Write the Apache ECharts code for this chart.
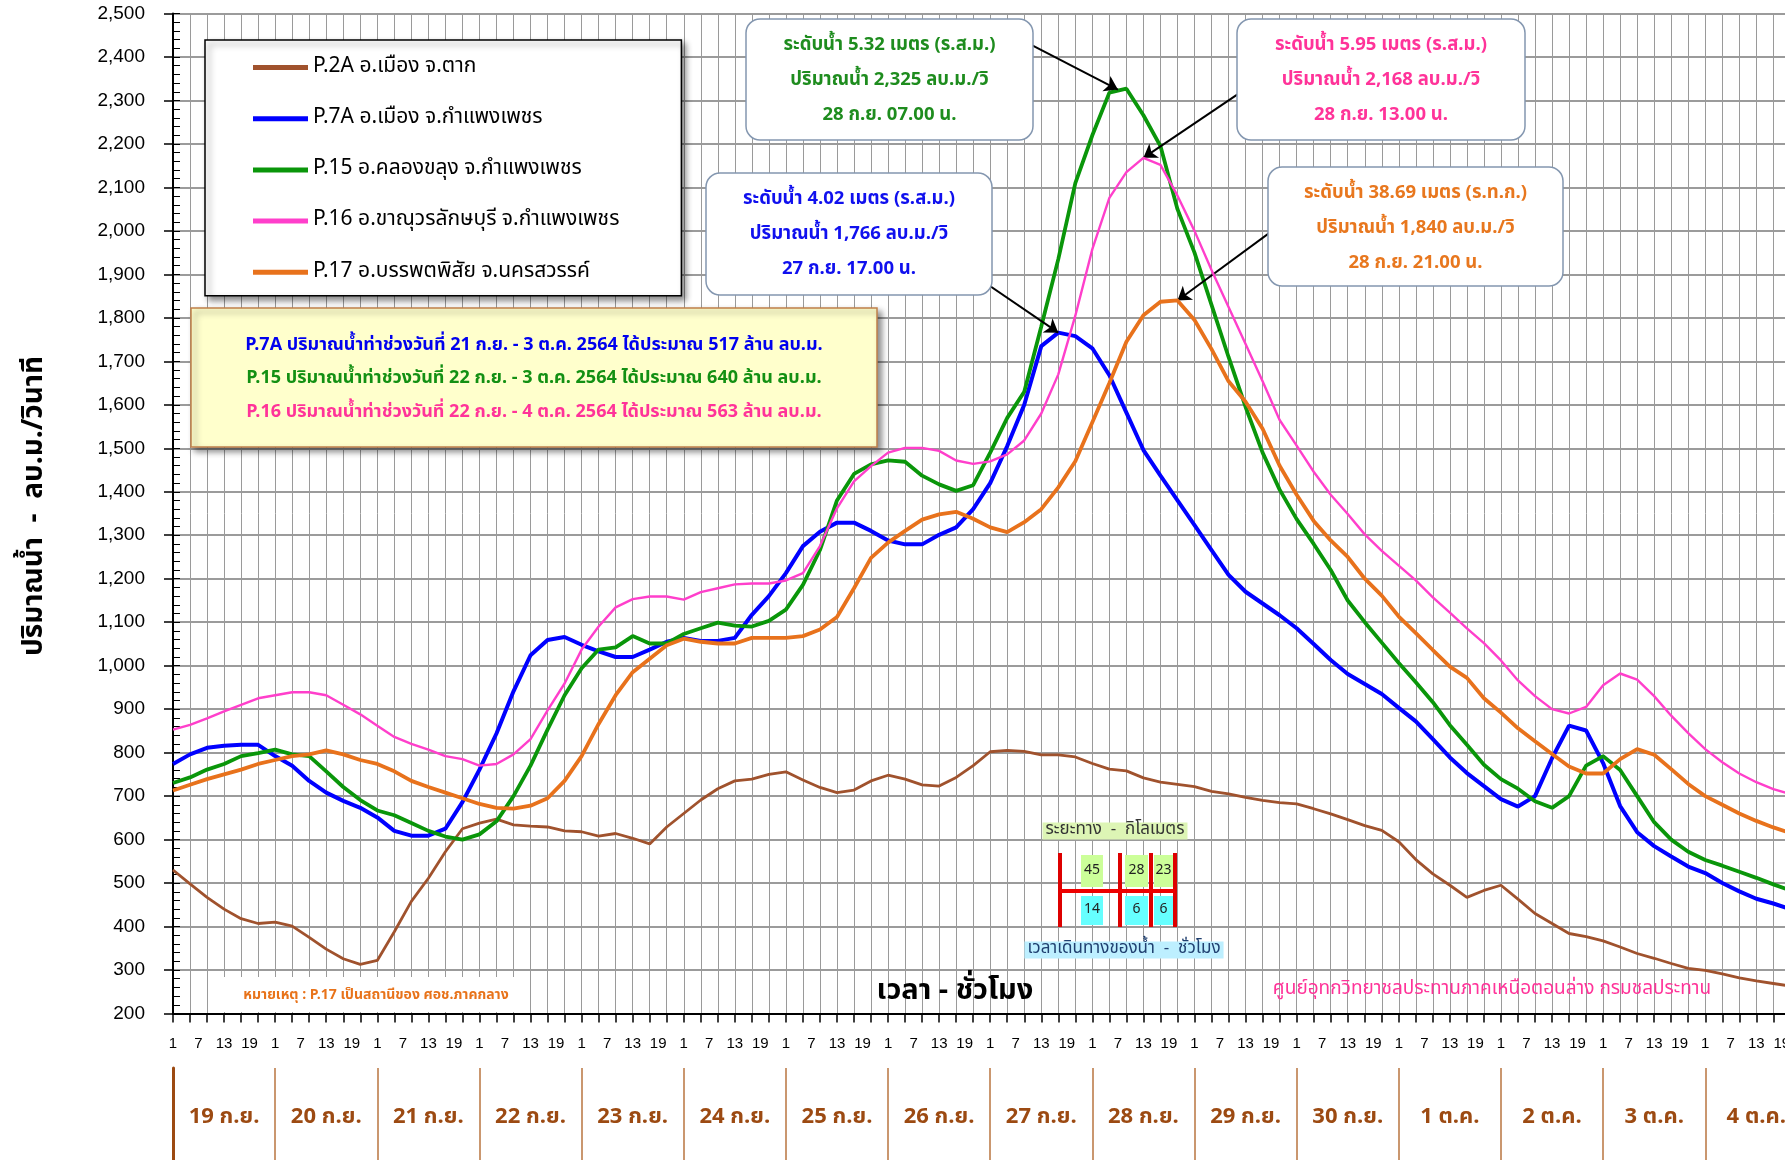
<!DOCTYPE html>
<html><head><meta charset="utf-8">
<script src="https://cdn.jsdelivr.net/npm/echarts@6/dist/echarts.min.js"></script>
<style>html,body{margin:0;padding:0;background:#fff;overflow:hidden}#c{width:1785px;height:1160px}</style>
</head><body><div id="c"></div>
<script>
// ---- data (one value every STEP_HOURS hours, starting 19 ก.ย. 01:00) ----
const STEP_HOURS = 4;
const dayLabels = ['19 ก.ย.','20 ก.ย.','21 ก.ย.','22 ก.ย.','23 ก.ย.','24 ก.ย.','25 ก.ย.','26 ก.ย.','27 ก.ย.','28 ก.ย.','29 ก.ย.','30 ก.ย.','1 ต.ค.','2 ต.ค.','3 ต.ค.','4 ต.ค.'];
const hourLabels = [1, 7, 13, 19];
const seriesNames = ['P.2A อ.เมือง จ.ตาก','P.7A อ.เมือง จ.กำแพงเพชร','P.15 อ.คลองขลุง จ.กำแพงเพชร','P.16 อ.ขาณุวรลักษบุรี จ.กำแพงเพชร','P.17 อ.บรรพตพิสัย จ.นครสวรรค์'];
const p2a = [530,498,467,440,418,407,410,401,375,348, 326,313,322,388,458,511,572,625,638,647, 634,631,629,620,618,608,614,603,590,629, 660,691,717,735,739,750,756,737,720,708, 714,735,748,739,726,723,743,770,802,805, 803,795,795,790,775,762,758,742,732,727, 722,711,705,697,690,685,682,671,659,646, 632,621,595,554,521,495,467,483,495,463, 430,407,384,377,367,353,338,327,315,304, 299,291,282,275,269,263];
const p7a = [774,796,811,816,818,818,792,770,735,708, 689,673,651,620,609,609,625,686,761,844, 941,1024,1059,1066,1048,1033,1020,1020,1037,1055, 1064,1057,1057,1064,1117,1160,1213,1275,1308,1329, 1329,1310,1288,1279,1279,1301,1318,1360,1420,1505, 1600,1735,1766,1758,1730,1668,1582,1496,1437,1380, 1323,1266,1209,1170,1143,1116,1086,1050,1013,981, 958,935,903,872,831,789,753,723,693,676, 700,787,862,851,776,677,617,585,561,538, 523,500,481,464,453,440];
const p15 = [730,743,761,774,792,799,807,796,792,757, 721,691,667,656,638,620,607,600,612,642, 700,770,853,932,994,1037,1042,1068,1051,1051, 1073,1086,1099,1092,1090,1103,1129,1186,1266,1380, 1441,1463,1472,1469,1437,1417,1402,1415,1490,1570, 1630,1780,1935,2110,2220,2318,2327,2266,2195,2050, 1950,1830,1710,1595,1490,1405,1337,1280,1220,1150, 1100,1053,1006,962,916,863,818,772,739,717, 688,673,700,770,792,760,700,640,600,572, 553,540,526,512,497,483];
const p16 = [853,864,879,895,910,925,932,939,939,932, 910,888,862,836,820,807,792,785,770,774, 796,831,897,959,1037,1090,1134,1153,1159,1159, 1152,1169,1178,1187,1189,1189,1196,1213,1275,1362, 1424,1459,1490,1501,1501,1494,1472,1464,1470,1486, 1518,1580,1670,1805,1958,2076,2135,2168,2152,2081, 2000,1910,1825,1740,1654,1565,1506,1446,1393,1349, 1302,1264,1230,1196,1157,1122,1086,1052,1012,966, 930,900,890,905,955,982,968,930,885,845, 808,778,752,732,716,705];
const p17 = [713,726,739,750,761,774,783,792,796,805, 796,783,774,757,735,721,708,695,682,673, 671,678,695,735,792,866,932,985,1016,1047, 1062,1055,1051,1051,1064,1064,1064,1068,1083,1112, 1178,1248,1283,1310,1336,1348,1354,1338,1318,1307, 1330,1360,1410,1470,1560,1650,1745,1806,1837,1840, 1795,1728,1654,1607,1545,1460,1393,1333,1288,1250, 1200,1161,1113,1075,1036,998,972,925,892,856, 826,797,768,752,752,785,808,795,762,728, 700,680,660,643,628,615];
const seriesValues = [p2a, p7a, p15, p16, p17];
// peak annotations: [startHour, startValue, peakHour, peakValue]
const peakArrows = [[199.5,2439,222,2325],[254.2,2341,228,2168],[184.8,1921,208,1766],[262.4,2030,236,1840]];
const calloutLines = [
  ['ระดับน้ำ 5.32 เมตร (ร.ส.ม.)','ปริมาณน้ำ 2,325 ลบ.ม./วิ','28 ก.ย. 07.00 น.'],
  ['ระดับน้ำ 5.95 เมตร (ร.ส.ม.)','ปริมาณน้ำ 2,168 ลบ.ม./วิ','28 ก.ย. 13.00 น.'],
  ['ระดับน้ำ 4.02 เมตร (ร.ส.ม.)','ปริมาณน้ำ 1,766 ลบ.ม./วิ','27 ก.ย. 17.00 น.'],
  ['ระดับน้ำ 38.69 เมตร (ร.ท.ก.)','ปริมาณน้ำ 1,840 ลบ.ม./วิ','28 ก.ย. 21.00 น.']
];
const volumeLines = [
  'P.7A ปริมาณน้ำท่าช่วงวันที่ 21 ก.ย. - 3 ต.ค. 2564 ได้ประมาณ 517 ล้าน ลบ.ม.',
  'P.15 ปริมาณน้ำท่าช่วงวันที่ 22 ก.ย. - 3 ต.ค. 2564 ได้ประมาณ 640 ล้าน ลบ.ม.',
  'P.16 ปริมาณน้ำท่าช่วงวันที่ 22 ก.ย. - 4 ต.ค. 2564 ได้ประมาณ 563 ล้าน ลบ.ม.'
];
const distanceKm = ['45','28','23'];
const travelHours = ['14','6','6'];

// ---- styling ----
const colors = ['#A0522D','#0000FF','#0A960A','#FF3FCB','#E8721C'];
const widths = [2.8,4,3.8,2.4,3.8];
const thaiFont = "Tahoma, 'Noto Sans Thai', 'Noto Sans', 'DejaVu Sans', sans-serif";
const numFont = "'Liberation Sans', Arial, sans-serif";
const PLOT_W = 1634.4; // 16 days, right part clipped by the page

const chart = echarts.init(document.getElementById('c'), null, {renderer:'canvas'});

const series = seriesNames.map((n,i)=>({
  name:n, type:'line', xAxisIndex:0, yAxisIndex:0,
  data: seriesValues[i].map((v,k)=>[k*STEP_HOURS, v]),
  showSymbol:false, symbol:'none', smooth:false,
  lineStyle:{color:colors[i], width:widths[i]}, itemStyle:{color:colors[i]},
  z: 2+i, silent:true
}));
series[0].markLine = {
  silent:true, symbol:['none','arrow'], symbolSize:13, animation:false,
  lineStyle:{color:'#000', width:2, type:'solid'}, label:{show:false},
  emphasis:{disabled:true},
  data: peakArrows.map(a=>[{coord:[a[0],a[1]]},{coord:[a[2],a[3]]}])
};

// graphic decorations
const g = [];
const boxes = [
  {x:746,y:19,w:287,h:121,c:'#1E8C1E'},
  {x:1237,y:19,w:288,h:121,c:'#FF3399'},
  {x:706,y:173,w:286,h:122,c:'#1010EE'},
  {x:1268,y:167,w:295,h:119,c:'#E8771E'}
];
boxes.forEach((b,i)=>{
  g.push({type:'rect', z:20, shape:{x:b.x,y:b.y,width:b.w,height:b.h,r:14},
    style:{fill:'#fff', stroke:'#8497B0', lineWidth:1.5}});
  calloutLines[i].forEach((t,j)=>{
    g.push({type:'text', z:21, x:b.x+b.w/2, y:b.y+27+j*35,
      style:{text:t, fill:b.c, fontSize:18.5, fontWeight:'bold', fontFamily:thaiFont, align:'center', verticalAlign:'middle'}});
  });
});
// yellow volume box
g.push({type:'rect', z:20, shape:{x:191,y:308,width:686,height:139},
  style:{fill:'#FFFFCC', stroke:'#C0804A', lineWidth:1.5, shadowBlur:6, shadowColor:'rgba(0,0,0,0.45)', shadowOffsetX:4, shadowOffsetY:4}});
const volColors = ['#0000EE','#139013','#FF3399'];
volumeLines.forEach((t,j)=>{
  g.push({type:'text', z:21, x:534, y:346+j*33.5,
    style:{text:t, fill:volColors[j], fontSize:18, fontWeight:'bold', fontFamily:thaiFont, align:'center', verticalAlign:'middle'}});
});
// note box
g.push({type:'rect', z:1, shape:{x:209,y:977,width:321,height:35}, style:{fill:'#fff'}});
g.push({type:'text', z:3, x:376, y:996, style:{text:'หมายเหตุ : P.17 เป็นสถานีของ ศอช.ภาคกลาง', fill:'#E8731A', fontSize:14, fontWeight:'bold', fontFamily:thaiFont, align:'center', verticalAlign:'middle'}});
// credit
g.push({type:'text', z:3, x:1492, y:990, style:{text:'ศูนย์อุทกวิทยาชลประทานภาคเหนือตอนล่าง กรมชลประทาน', fill:'#FF3399', fontSize:19, fontFamily:thaiFont, align:'center', verticalAlign:'middle'}});
// axis titles
g.push({type:'text', z:3, x:955, y:993, style:{text:'เวลา - ชั่วโมง', fill:'#000', fontSize:29, fontWeight:'bold', fontFamily:thaiFont, align:'center', verticalAlign:'middle'}});
g.push({type:'text', z:3, x:36, y:506, rotation:Math.PI/2, style:{text:'ปริมาณน้ำ  -  ลบ.ม./วินาที', fill:'#000', fontSize:28, fontWeight:'bold', fontFamily:thaiFont, align:'center', verticalAlign:'middle'}});
// distance / travel-time diagram
g.push({type:'text', z:6, x:1115, y:831, style:{text:'ระยะทาง  -  กิโลเมตร', fill:'#333', fontSize:17, fontFamily:thaiFont, align:'center', verticalAlign:'middle', backgroundColor:'#DDF5B5', padding:[0,3]}});
g.push({type:'text', z:6, x:1124, y:950, style:{text:'เวลาเดินทางของน้ำ  -  ชั่วโมง', fill:'#1F3F6F', fontSize:17, fontFamily:thaiFont, align:'center', verticalAlign:'middle', backgroundColor:'#BDEFFF', padding:[0,3]}});
const cellX = [[1081,22],[1125,23],[1154,19]];
cellX.forEach((c,i)=>{
  g.push({type:'rect', z:6, shape:{x:c[0],y:855,width:c[1],height:32}, style:{fill:'#CCFF99'}});
  g.push({type:'rect', z:6, shape:{x:c[0],y:896,width:c[1],height:29}, style:{fill:'#66FFFF'}});
  g.push({type:'text', z:8, x:c[0]+c[1]/2, y:871, style:{text:distanceKm[i], fill:'#222', fontSize:14, fontFamily:thaiFont, align:'center', verticalAlign:'middle'}});
  g.push({type:'text', z:8, x:c[0]+c[1]/2, y:910, style:{text:travelHours[i], fill:'#222', fontSize:14, fontFamily:thaiFont, align:'center', verticalAlign:'middle'}});
});
[1060,1120,1151,1175].forEach(x=>{
  g.push({type:'line', z:7, shape:{x1:x,y1:853,x2:x,y2:927}, style:{stroke:'#DD0000', lineWidth:4}});
});
g.push({type:'line', z:7, shape:{x1:1060,y1:891,x2:1175,y2:891}, style:{stroke:'#EE0000', lineWidth:4}});

const option = {
  animation:false,
  backgroundColor:'#fff',
  textStyle:{fontFamily:numFont},
  grid:[
    {left:173, top:13.5, width:PLOT_W, height:1000, outerBoundsMode:'none', containLabel:false},
    {left:173, top:1068, width:PLOT_W, height:130, outerBoundsMode:'none', containLabel:false}
  ],
  legend:{
    orient:'vertical', left:205, top:40, itemWidth:55, itemHeight:5, itemGap:30.2, icon:'rect',
    padding:[17,62,13,48], backgroundColor:'#fff', borderColor:'#000', borderWidth:1.5,
    shadowBlur:6, shadowColor:'rgba(0,0,0,0.45)', shadowOffsetX:4, shadowOffsetY:4,
    textStyle:{fontSize:21, color:'#000', fontFamily:thaiFont},
    selectedMode:false, data:seriesNames
  },
  xAxis:[
    {gridIndex:0, type:'value', min:0, max:384, interval:4, position:'bottom',
     axisLine:{show:true, onZero:false, lineStyle:{color:'#000', width:2}},
     axisTick:{show:true, length:9, lineStyle:{color:'#000', width:1.5}},
     axisLabel:{show:false},
     splitLine:{show:true, lineStyle:{color:'#9A9A9A', width:1}}},
    {gridIndex:0, type:'value', min:0, max:384, interval:6, position:'bottom', offset:0,
     axisLine:{show:false}, axisTick:{show:false}, splitLine:{show:false},
     axisLabel:{show:true, margin:23, fontSize:15, color:'#000', fontFamily:numFont,
       formatter:v=>String(hourLabels[(v%24)/6])}},
    {gridIndex:1, type:'category', data:dayLabels, position:'top', boundaryGap:true,
     axisLine:{show:true, lineStyle:{color:'#9C4A12', width:3}},
     axisTick:{show:false},
     splitLine:{show:true, interval:0, lineStyle:{color:'#B8743F', width:1.5}},
     axisLabel:{inside:true, margin:40, interval:0, fontSize:22, fontWeight:'bold', color:'#9C4A12', fontFamily:thaiFont}}
  ],
  yAxis:[
    {gridIndex:0, type:'value', min:200, max:2500, interval:100,
     axisLine:{show:true, onZero:false, lineStyle:{color:'#000', width:2}},
     axisTick:{show:true, length:9, lineStyle:{color:'#000', width:1.5}},
     axisLabel:{fontSize:19, margin:28, color:'#000', fontFamily:numFont,
       formatter:v=>v.toLocaleString('en-US')},
     splitLine:{show:true, lineStyle:{color:'#7A7A7A', width:1.5}}},
    {gridIndex:1, type:'value', min:0, max:1,
     axisLine:{show:true, onZero:false, lineStyle:{color:'#9C4A12', width:3}},
     axisTick:{show:false}, axisLabel:{show:false}, splitLine:{show:false}},
    {gridIndex:0, type:'value', min:200, max:2500, interval:20, position:'left', offset:0,
     axisLine:{show:false}, axisLabel:{show:false}, splitLine:{show:false},
     axisTick:{show:true, inside:true, length:7, lineStyle:{color:'#000', width:1}}}
  ],
  graphic:{elements:g},
  series:series
};
chart.setOption(option);
</script></body></html>
